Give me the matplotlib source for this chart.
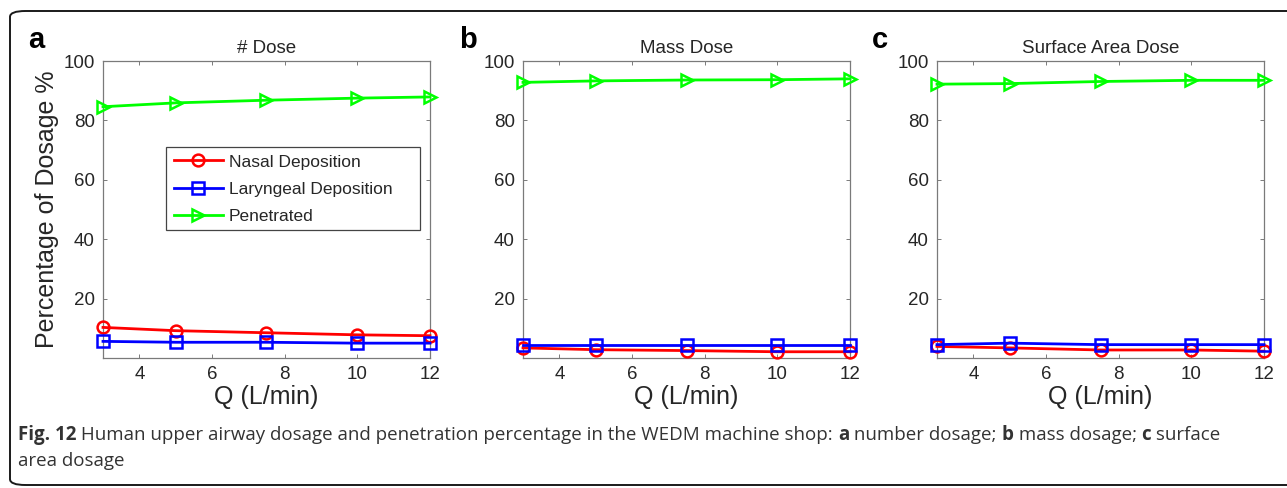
import matplotlib
matplotlib.use("Agg")
import matplotlib.pyplot as plt
from matplotlib.patches import FancyBboxPatch, Rectangle

# ---------------- data ----------------
flow_rates = [3, 5, 7.5, 10, 12]
series_names = ["Nasal Deposition", "Laryngeal Deposition", "Penetrated"]

number_nasal = [10.3, 9.2, 8.5, 7.8, 7.5]
number_laryngeal = [5.6, 5.3, 5.3, 5.0, 5.0]
number_penetrated = [84.6, 85.9, 86.8, 87.5, 87.9]

mass_nasal = [3.4, 2.8, 2.5, 2.1, 2.1]
mass_laryngeal = [4.4, 4.4, 4.4, 4.4, 4.4]
mass_penetrated = [92.8, 93.3, 93.6, 93.7, 94.0]

surface_nasal = [3.9, 3.4, 2.7, 2.7, 2.3]
surface_laryngeal = [4.5, 5.0, 4.5, 4.5, 4.5]
surface_penetrated = [92.2, 92.4, 93.1, 93.5, 93.5]

panel_titles = ["# Dose", "Mass Dose", "Surface Area Dose"]
panel_letters = ["a", "b", "c"]
x_ticks = [4, 6, 8, 10, 12]
y_ticks = [20, 40, 60, 80, 100]
x_label = "Q (L/min)"
y_label = "Percentage of Dosage %"

caption_line1 = [
    ("Fig. 12", "bold"),
    (" Human upper airway dosage and penetration percentage in the WEDM machine shop: ", "normal"),
    ("a", "bold"), (" number dosage; ", "normal"),
    ("b", "bold"), (" mass dosage; ", "normal"),
    ("c", "bold"), (" surface", "normal"),
]
caption_line2 = [("area dosage", "normal")]

# ---------------- styles ----------------
W, H = 1287, 488
fig = plt.figure(figsize=(W / 100, H / 100), dpi=100)
fig.patch.set_facecolor("white")

plot_font = ["Liberation Sans", "DejaVu Sans"]
cap_font = ["Open Sans", "DejaVu Sans"]
series_styles = [
    dict(color=(1, 0, 0), marker="o"),
    dict(color=(0, 0, 1), marker="s"),
    dict(color=(0, 1, 0), marker=">"),
]
axis_grey = "#7a7a7a"
text_grey = "#262626"

panels = [
    (number_nasal, number_laryngeal, number_penetrated),
    (mass_nasal, mass_laryngeal, mass_penetrated),
    (surface_nasal, surface_laryngeal, surface_penetrated),
]
lefts_px = [103, 523, 937]
letter_x_px = [28, 459, 872]
ax_w_px, top_px, bottom_px = 327, 61, 358

# outer rounded frame (extends past right edge)
frame = FancyBboxPatch((10 / W, 3 / H), 1.2, (477 - 3) / H,
                       boxstyle="round,pad=0,rounding_size=0.012",
                       transform=fig.transFigure, fill=False,
                       edgecolor="#1a1a1a", linewidth=1.4, zorder=0)
fig.patches.append(frame)

for i, (vals, left) in enumerate(zip(panels, lefts_px)):
    ax = fig.add_axes([left / W, (H - bottom_px) / H, ax_w_px / W,
                       (bottom_px - top_px) / H])
    for name, v, st in zip(series_names, vals, series_styles):
        ax.plot(flow_rates, v, color=st["color"], marker=st["marker"],
                markerfacecolor="none", markeredgecolor=st["color"],
                markersize=8.5, markeredgewidth=1.8, linewidth=2.0,
                label=name, clip_on=False, zorder=3)
    ax.set_xlim(3, 12)
    ax.set_ylim(0, 100)
    ax.set_xticks(x_ticks)
    ax.set_yticks(y_ticks)
    ax.tick_params(direction="in", length=3, width=0.7, color=axis_grey,
                   top=True, right=True, labelsize=13.5, labelcolor=text_grey,
                   pad=6)
    for lab in ax.get_xticklabels() + ax.get_yticklabels():
        lab.set_family(plot_font)
    for sp in ax.spines.values():
        sp.set_color(axis_grey)
        sp.set_linewidth(0.9)
    ax.set_title(panel_titles[i], fontsize=13.5, color=text_grey,
                 family=plot_font, pad=6)
    ax.set_xlabel(x_label, fontsize=18, color=text_grey, family=plot_font,
                  labelpad=1)
    if i == 0:
        ax.set_ylabel(y_label, fontsize=18, color=text_grey, family=plot_font,
                      labelpad=3)
        leg = ax.legend(loc="upper left", bbox_to_anchor=(0.193, 0.712),
                        prop=dict(family=plot_font, size=12.5),
                        handlelength=2.8, handletextpad=0.35,
                        borderpad=0.45, labelspacing=0.7,
                        frameon=False, borderaxespad=0)
        for t in leg.get_texts():
            t.set_color(text_grey)
        leg.set_zorder(6)
        box = Rectangle((0.193, 0.431), 0.969 - 0.193, 0.712 - 0.431,
                        transform=ax.transAxes, facecolor="white",
                        edgecolor="#444444", linewidth=0.9, zorder=5)
        ax.add_patch(box)
    fig.text(letter_x_px[i] / W, 1 - 48 / H, panel_letters[i], fontsize=21,
             fontweight="bold", family=plot_font, color="black",
             ha="left", va="baseline")

# caption with mixed weights
renderer = fig.canvas.get_renderer()


def draw_pieces(pieces, x_px, y_px, size):
    x = x_px
    for txt, wt in pieces:
        t = fig.text(x / W, 1 - y_px / H, txt, fontsize=size, fontweight=wt,
                     family=cap_font, color="#333333", ha="left",
                     va="baseline")
        bb = t.get_window_extent(renderer=renderer)
        x += bb.width
    return x


def measure(pieces, size):
    total = 0
    for txt, wt in pieces:
        t = fig.text(0, 0, txt, fontsize=size, fontweight=wt, family=cap_font)
        total += t.get_window_extent(renderer=renderer).width
        t.remove()
    return total


size = 11.0
w = measure(caption_line1, size)
size = size * (1207 / w)
draw_pieces(caption_line1, 18, 440, size)
draw_pieces(caption_line2, 18, 466, size)

fig.savefig("out.png", dpi=100, facecolor="white")
